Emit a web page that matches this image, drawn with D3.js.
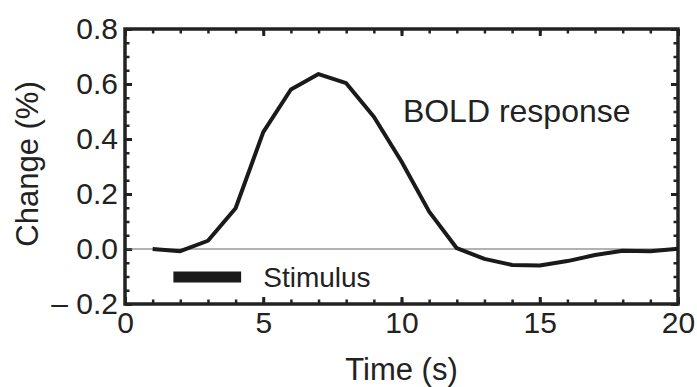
<!DOCTYPE html>
<meta charset="utf-8">
<script src="https://d3js.org/d3.v7.min.js"></script>
<style>
  body { margin: 0; background: #fff; }
  text { font-family: "Liberation Sans", Arial, Helvetica, sans-serif; fill: #222; }
</style>
<body>
<div id="chart"></div>
<script>
// BOLD response, sampled once a second
var times = [1, 2, 3, 4, 5, 6, 7, 8, 9, 10, 11, 12, 13, 14, 15, 16, 17, 18, 19, 20];
var bold = [0.0, -0.008, 0.03, 0.148, 0.425, 0.58, 0.636, 0.603, 0.481, 0.318, 0.136, 0.003,
            -0.036, -0.058, -0.06, -0.044, -0.022, -0.006, -0.008, 0.001];

// stimulus block (seconds) and the level it is drawn at
var stimulus = [1.75, 4.2];
var stimulusLevel = -0.102;

var xTicks = [0, 5, 10, 15, 20];
var yTicks = [-0.2, 0.0, 0.2, 0.4, 0.6, 0.8];
var yTickLabels = ["\u2013 0.2", "0.0", "0.2", "0.4", "0.6", "0.8"];

var margin = {top: 29, right: 19, bottom: 83, left: 125},
    width = 697 - margin.left - margin.right,
    height = 387 - margin.top - margin.bottom;

var svg = d3.select("#chart")
  .append("svg")
    .attr("width", 697)
    .attr("height", 387)
  .append("g")
    .attr("transform", "translate(" + margin.left + "," + margin.top + ")");

var x = d3.scaleLinear().domain([0, 20]).range([0, width]);
var y = d3.scaleLinear().domain([-0.2, 0.8]).range([height, 0]);

var xMinor = d3.range(0, 21, 1);
var yMinor = d3.range(-0.2, 0.8001, 0.05);

// minor ticks, pointing inward on all four sides
function minor(axis, tr) {
  var g = svg.append("g").attr("transform", tr).call(axis);
  g.select(".domain").remove();
  g.selectAll("text").remove();
  g.selectAll("line").attr("stroke", "#222").attr("stroke-width", 2.5);
}
minor(d3.axisBottom(x).tickValues(xMinor).tickSize(-4.5), "translate(0," + height + ")");
minor(d3.axisTop(x).tickValues(xMinor).tickSize(-4.5), "translate(0,0)");
minor(d3.axisLeft(y).tickValues(yMinor).tickSize(-4.5), "translate(0,0)");
minor(d3.axisRight(y).tickValues(yMinor).tickSize(-4.5), "translate(" + width + ",0)");

function major(axis, tr, keepText) {
  var g = svg.append("g").attr("transform", tr).call(axis);
  g.select(".domain").remove();
  g.selectAll("line").attr("stroke", "#222").attr("stroke-width", 3);
  if (!keepText) g.selectAll("text").remove();
  return g;
}
var gx = major(d3.axisBottom(x).tickValues(xTicks).tickSize(-7).tickPadding(8).tickFormat(d3.format("d")),
  "translate(0," + height + ")", true);
gx.selectAll("text").style("font-size", "30px").attr("dy", "0.71em").attr("fill", "#222");
major(d3.axisTop(x).tickValues(xTicks).tickSize(-7), "translate(0,0)", false);

var gy = major(d3.axisLeft(y).tickValues(yTicks).tickSize(-7).tickPadding(7)
  .tickFormat(function(d, i) { return yTickLabels[i]; }), "translate(0,0)", true);
gy.selectAll("text").style("font-size", "30px").style("white-space", "pre").attr("fill", "#222");
major(d3.axisRight(y).tickValues(yTicks).tickSize(-7), "translate(" + width + ",0)", false);

// zero line
svg.append("line")
  .attr("x1", x(0)).attr("x2", x(20))
  .attr("y1", y(0)).attr("y2", y(0))
  .attr("stroke", "#666")
  .attr("stroke-width", 1.2);

// frame
svg.append("rect")
  .attr("x", 0).attr("y", 0)
  .attr("width", width).attr("height", height)
  .attr("fill", "none")
  .attr("stroke", "#222")
  .attr("stroke-width", 3.5);

// BOLD curve
svg.append("path")
  .datum(times)
  .attr("fill", "none")
  .attr("stroke", "#1a1a1a")
  .attr("stroke-width", 4)
  .attr("stroke-linejoin", "round")
  .attr("d", d3.line()
    .x(function(d) { return x(d); })
    .y(function(d, i) { return y(bold[i]); })
  );

// stimulus bar
svg.append("line")
  .attr("x1", x(stimulus[0])).attr("x2", x(stimulus[1]))
  .attr("y1", y(stimulusLevel)).attr("y2", y(stimulusLevel))
  .attr("stroke", "#1a1a1a")
  .attr("stroke-width", 11);

svg.append("text")
  .attr("x", x(5.0))
  .attr("y", y(-0.137))
  .style("font-size", "28px")
  .text("Stimulus");

svg.append("text")
  .attr("x", x(10.05))
  .attr("y", y(0.463))
  .style("font-size", "32px")
  .text("BOLD response");

// axis titles
svg.append("text")
  .attr("x", width / 2)
  .attr("y", height + 76)
  .attr("text-anchor", "middle")
  .style("font-size", "31px")
  .text("Time (s)");

svg.append("text")
  .attr("transform", "translate(" + (38 - margin.left) + "," + (164 - margin.top) + ") rotate(-90)")
  .attr("text-anchor", "middle")
  .style("font-size", "31px")
  .text("Change (%)");
</script>
</body>
